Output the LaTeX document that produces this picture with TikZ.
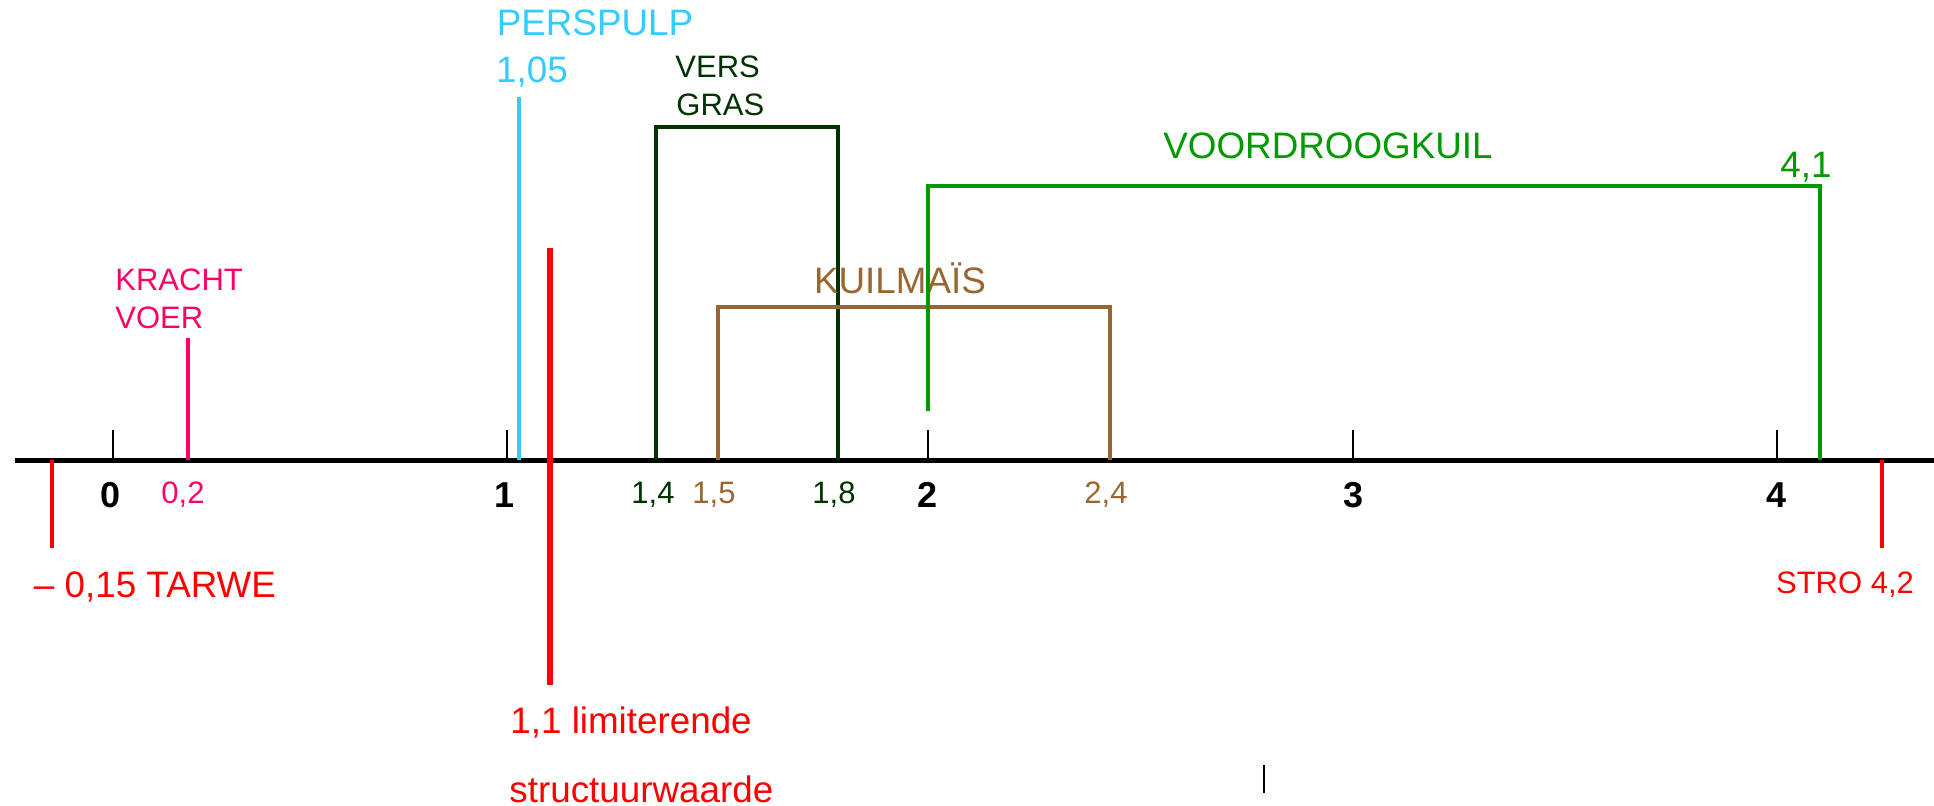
\documentclass[tikz,border=0pt]{standalone}
\usepackage{fontspec}
\setmainfont{Liberation Sans}
\definecolor{cyanl}{RGB}{51,204,255}
\definecolor{dkgreen}{RGB}{0,51,0}
\definecolor{brownk}{RGB}{153,102,51}
\definecolor{greenv}{RGB}{0,153,0}
\definecolor{pinkk}{RGB}{255,0,102}
\definecolor{redl}{RGB}{255,0,0}
\begin{document}
\begin{tikzpicture}[x=0.5pt,y=-0.5pt,
  lbl/.style={inner sep=0pt,anchor=base},
  lblw/.style={inner sep=0pt,anchor=base west},
  big/.style={font=\fontsize{18.4pt}{18.4pt}\selectfont},
  small/.style={font=\fontsize{15.5pt}{15.5pt}\selectfont},
  bnum/.style={font=\fontsize{18pt}{18pt}\selectfont\bfseries},
  axisline/.style={line width=2.5pt,black},
  tickline/.style={line width=1pt,black},
  bracket/.style={line width=1.75pt},
  marker/.style={line width=1.75pt}]
\useasboundingbox (0,0) rectangle (1934,805);

% axis
\coordinate (axL) at (15,460);
\coordinate (axR) at (1934,460);
\draw[axisline] (axL) -- (axR);

% ticks
\foreach \x/\n in {113/0,507/1,928/2,1353/3,1777/4}{
  \coordinate (t\n top) at (\x,430);
  \coordinate (t\n bot) at (\x,460);
  \draw[tickline] (t\n top) -- (t\n bot);
}
\node[lbl,bnum] (n0) at (111,507) {0};
\node[lbl,bnum] (n1) at (505,507) {1};
\node[lbl,bnum] (n2) at (928,507) {2};
\node[lbl,bnum] (n3) at (1353,507) {3};
\node[lbl,bnum] (n4) at (1776,507) {4};

% -0,15 tarwe
\coordinate (tarA) at (52,460);
\coordinate (tarB) at (52,548);
\draw[line width=2pt,redl] (tarA) -- (tarB);
\node[lbl,big,text=redl] (tarwe) at (155,597) {\textendash\ 0,15 TARWE};

% stro
\coordinate (stroA) at (1882,460);
\coordinate (stroB) at (1882,548);
\draw[line width=2pt,redl] (stroA) -- (stroB);
\node[lbl,small,text=redl] (stro) at (1845,593) {STRO 4,2};

% krachtvoer
\coordinate (kvA) at (188,338);
\coordinate (kvB) at (188,460);
\draw[marker,pinkk] (kvA) -- (kvB);
\node[lblw,small,text=pinkk] (kracht) at (115,290) {KRACHT};
\node[lblw,small,text=pinkk] (voer) at (115,328) {VOER};
\node[lbl,small,text=pinkk] (v02) at (183,503) {0,2};

% perspulp
\coordinate (ppA) at (519,97);
\coordinate (ppB) at (519,460);
\draw[marker,cyanl] (ppA) -- (ppB);
\node[lbl,big,text=cyanl] (perspulp) at (595,35) {PERSPULP};
\node[lbl,big,text=cyanl] (v105) at (532,82) {1,05};

% limiterende structuurwaarde
\coordinate (limA) at (550,248);
\coordinate (limB) at (550,685);
\draw[line width=2.75pt,redl] (limA) -- (limB);
\node[lblw,big,text=redl] (lim1) at (510,733) {1,1 limiterende};
\node[lblw,big,text=redl] (lim2) at (509,802) {structuurwaarde};

% vers gras
\coordinate (vgA) at (656,460);
\coordinate (vgB) at (656,127);
\coordinate (vgC) at (838,127);
\coordinate (vgD) at (838,460);
\draw[bracket,dkgreen] (vgA) -- (vgB) -- (vgC) -- (vgD);
\node[lblw,small,text=dkgreen] (vers) at (675,77) {VERS};
\node[lblw,small,text=dkgreen] (gras) at (676,115) {GRAS};
\node[lbl,small,text=dkgreen] (v14) at (653,503) {1,4};
\node[lbl,small,text=dkgreen] (v18) at (834,503) {1,8};

% kuilmais
\coordinate (kmA) at (718,460);
\coordinate (kmB) at (718,307);
\coordinate (kmC) at (1110,307);
\coordinate (kmD) at (1110,460);
\draw[bracket,brownk] (kmA) -- (kmB) -- (kmC) -- (kmD);
\node[lbl,big,text=brownk] (kuilmais) at (900,293) {KUILMAÏS};
\node[lbl,small,text=brownk] (v15) at (714,503) {1,5};
\node[lbl,small,text=brownk] (v24) at (1106,503) {2,4};

% voordroogkuil
\coordinate (vdA) at (928,411);
\coordinate (vdB) at (928,186);
\coordinate (vdC) at (1820,186);
\coordinate (vdD) at (1820,460);
\draw[bracket,greenv] (vdA) -- (vdB) -- (vdC) -- (vdD);
\node[lbl,big,text=greenv] (voordroog) at (1328,158) {VOORDROOGKUIL};
\node[lbl,big,text=greenv] (v41) at (1806,177) {4,1};

% stray mark
\coordinate (mkA) at (1264,765);
\coordinate (mkB) at (1264,793);
\draw[tickline] (mkA) -- (mkB);
\end{tikzpicture}
\end{document}
